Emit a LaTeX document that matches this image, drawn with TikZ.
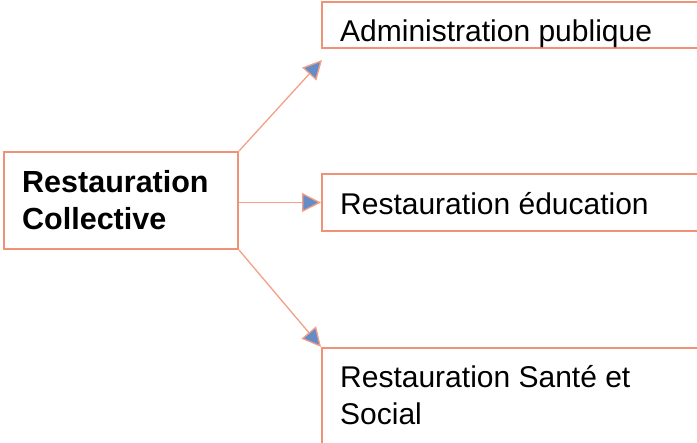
\documentclass[tikz,border=0pt]{standalone}
\usepackage{fontspec}
\setmainfont{Liberation Sans}
\usetikzlibrary{arrows.meta}
\definecolor{boxline}{RGB}{240,146,118}
\definecolor{connline}{RGB}{243,160,135}
\definecolor{tipblue}{RGB}{102,140,200}
\tikzset{
  boxshape/.style={draw=boxline, line width=2pt, rectangle, inner sep=0pt},
  label text/.style={anchor=base west, inner sep=0pt, font=\fontsize{30}{37}\selectfont},
  bold text/.style={label text, font=\fontsize{30.5}{37}\selectfont\bfseries},
  conn/.style={draw=connline, line width=1.3pt,
    -{Triangle[length=19pt,width=19pt,fill=tipblue,line width=1.3pt]}}
}
\begin{document}
\begin{tikzpicture}[x=1pt,y=-1pt]
\useasboundingbox (0,0) rectangle (697,443);
\clip (0,0) rectangle (697,443);
% boxes
\node[boxshape, minimum width=234pt, minimum height=97pt] (L) at (121,200.5) {};
\node[boxshape, minimum width=400pt, minimum height=46pt] (A) at (522,25) {};
\node[boxshape, minimum width=400pt, minimum height=57pt] (M) at (522,202.5) {};
\node[boxshape, minimum width=400pt, minimum height=130pt] (S) at (522,413) {};
% texts
\node[bold text] (Lt1) at (22,193) {Restauration};
\node[bold text] (Lt2) at (22,230) {Collective};
\node[label text] (At) at (340,42) {Administration publique};
\node[label text] (Mt) at (340,215) {Restauration éducation};
\node[label text] (St1) at (340,388) {Restauration Santé et};
\node[label text] (St2) at (340,425) {Social};
% connectors
\coordinate (tipA) at (322,60);
\draw[conn] (L.north east) -- (tipA);
\draw[conn] (M.west -| L.east) -- (M.west);
\draw[conn] (L.south east) -- (S.north west);
\end{tikzpicture}
\end{document}
